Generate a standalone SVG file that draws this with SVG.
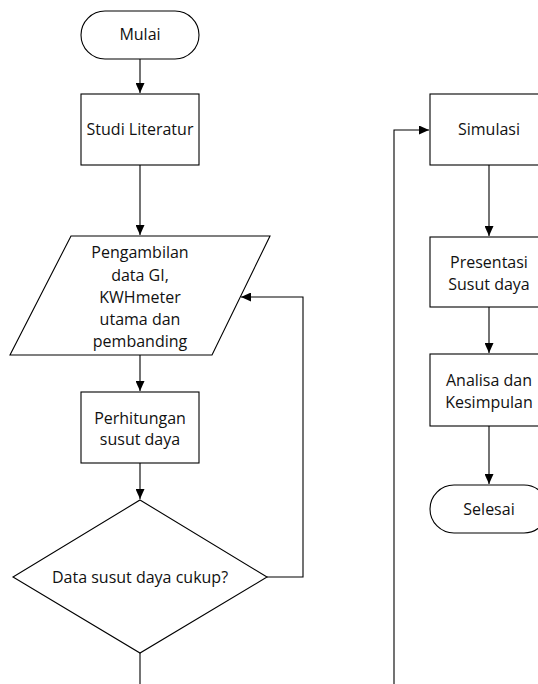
<svg xmlns="http://www.w3.org/2000/svg" width="538" height="684" viewBox="0 0 538 684">
<style>
.s{fill:#fff;stroke:#000;stroke-width:1.1}
.t{font-family:"Open Sans","Liberation Sans",sans-serif;font-size:16px;fill:#111;text-anchor:middle}
.c{fill:none;stroke:#000;stroke-width:1.1}
</style>
<defs>
<marker id="a" markerWidth="10" markerHeight="9" refX="10" refY="4.5" orient="auto" markerUnits="userSpaceOnUse">
<path d="M0,0 L10,4.5 L0,9 z" fill="#000"/>
</marker>
</defs>
<rect width="538" height="684" fill="#fff"/>
<g id="connectors">
<path class="c" d="M140,59 V93" marker-end="url(#a)"/>
<path class="c" d="M140,165 V235" marker-end="url(#a)"/>
<path class="c" d="M140,355 V391" marker-end="url(#a)"/>
<path class="c" d="M140,463 V499" marker-end="url(#a)"/>
<path class="c" d="M140,653 V684"/>
<path class="c" d="M267,577 H303 V297 H241" marker-end="url(#a)"/>
<path class="c" d="M394,684 V130 H429" marker-end="url(#a)"/>
<path class="c" d="M489,165 V236" marker-end="url(#a)"/>
<path class="c" d="M489,307 V353" marker-end="url(#a)"/>
<path class="c" d="M489,426 V484" marker-end="url(#a)"/>
</g>
<g id="mulai"><rect class="s" x="81" y="11" width="118" height="48" rx="24"/><text class="t" x="140" y="40">Mulai</text></g>
<g id="studi"><rect class="s" x="81" y="94" width="118" height="71"/><text class="t" x="140" y="135">Studi Literatur</text></g>
<g id="pengambilan"><polygon class="s" points="71,236 270,236 212,355 10,355"/>
<text class="t" x="140" y="258">Pengambilan</text>
<text class="t" x="140" y="281">data GI,</text>
<text class="t" x="140" y="303">KWHmeter</text>
<text class="t" x="140" y="325">utama dan</text>
<text class="t" x="140" y="347">pembanding</text></g>
<g id="perhitungan"><rect class="s" x="81" y="392" width="118" height="71"/><text class="t" x="140" y="424">Perhitungan</text><text class="t" x="140" y="445">susut daya</text></g>
<g id="keputusan"><polygon class="s" points="140,500 267,577 140,653 13,577"/><text class="t" x="140" y="583">Data susut daya cukup?</text></g>
<g id="simulasi"><rect class="s" x="430" y="94" width="118" height="71"/><text class="t" x="489" y="135">Simulasi</text></g>
<g id="presentasi"><rect class="s" x="430" y="237" width="118" height="70"/><text class="t" x="489" y="268">Presentasi</text><text class="t" x="489" y="290">Susut daya</text></g>
<g id="analisa"><rect class="s" x="430" y="354" width="118" height="72"/><text class="t" x="489" y="386">Analisa dan</text><text class="t" x="489" y="408">Kesimpulan</text></g>
<g id="selesai"><rect class="s" x="430" y="485" width="118" height="48" rx="24"/><text class="t" x="489" y="515">Selesai</text></g>
</svg>
